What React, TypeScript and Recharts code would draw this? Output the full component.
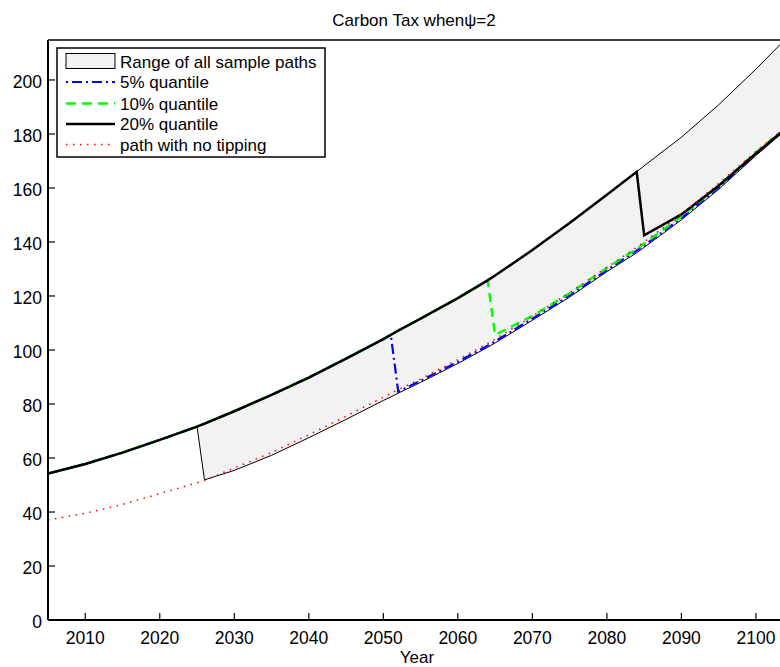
import { ComposedChart, Line, Area, XAxis, YAxis } from 'recharts';

// values (carbon tax, $/tC)
const years = [2005, 2010, 2015, 2020, 2025, 2026, 2030, 2035, 2040, 2045, 2050, 2051, 2052, 2055, 2060, 2064, 2065, 2070, 2075, 2080, 2084, 2085, 2090, 2095, 2100, 2103.5];

const upperPath = [54.2, 57.8, 62.0, 66.7, 71.6, 72.7, 77.3, 83.4, 89.8, 96.8, 104.0, 105.6, 107.2, 111.6, 119.2, 125.8, 127.6, 137.0, 147.0, 157.5, 166.0, 168.2, 178.8, 190.8, 204.0, 213.8];
const lowerPath = [null, null, null, null, 71.6, 51.9, 55.4, 61.0, 67.5, 74.3, 81.3, 82.6, 84.0, 88.0, 95.0, 101.0, 102.6, 111.0, 119.6, 129.0, 136.0, 138.0, 148.2, 159.5, 172.0, 180.3];
const noTipping = [37.0, 39.5, 42.8, 46.8, 50.8, 51.7, 56.3, 62.0, 68.6, 75.5, 82.5, 83.9, 85.3, 89.3, 96.4, 102.4, 104.0, 112.5, 121.2, 130.6, 138.0, 140.0, 150.3, 161.7, 173.5, 181.5];

const quantile5 = [54.2, 57.8, 62.0, 66.7, 71.6, 72.7, 77.3, 83.4, 89.8, 96.8, 104.0, 105.6, 84.6, 88.6, 95.6, 101.6, 103.2, 111.6, 120.2, 129.6, 136.8, 138.7, 148.8, 160.1, 172.6, 180.8];
const quantile10 = [54.2, 57.8, 62.0, 66.7, 71.6, 72.7, 77.3, 83.4, 89.8, 96.8, 104.0, 105.6, 107.2, 111.6, 119.2, 125.8, 105.6, 112.6, 121.0, 130.4, 137.4, 139.4, 149.5, 160.7, 173.2, 181.0];
const quantile20 = [54.2, 57.8, 62.0, 66.7, 71.6, 72.7, 77.3, 83.4, 89.8, 96.8, 104.0, 105.6, 107.2, 111.6, 119.2, 125.8, 127.6, 137.0, 147.0, 157.5, 166.0, 142.5, 150.2, 160.8, 172.8, 180.8];

const xTicks = [2010, 2020, 2030, 2040, 2050, 2060, 2070, 2080, 2090, 2100];
const yTicks = [0, 20, 40, 60, 80, 100, 120, 140, 160, 180, 200];

const title = 'Carbon Tax when\u03c8=2';
const xLabel = 'Year';
const legendLabels = ['Range of all sample paths', '5% quantile', '10% quantile', '20% quantile', 'path with no tipping'];

const data = years.map((year, i) => ({
  year,
  range: lowerPath[i] == null ? null : [lowerPath[i], upperPath[i]],
  edgeHigh: lowerPath[i] == null ? null : upperPath[i],
  edgeLow: lowerPath[i],
  q5: quantile5[i],
  q10: quantile10[i],
  q20: quantile20[i],
  noTip: noTipping[i],
}));

const font = '"Liberation Sans", Arial, Helvetica, sans-serif';

export default function App() {
  return (
    <div style={{ position: 'absolute', left: 0, top: 0, width: 780, height: 667, overflow: 'hidden', background: '#fff', fontFamily: font }}>
      <ComposedChart width={790} height={667} data={data} margin={{ top: 39, right: 7, bottom: 17, left: 0 }}>
        <XAxis
          dataKey="year"
          type="number"
          domain={[2005, 2103.5]}
          allowDataOverflow
          ticks={xTicks}
          height={30}
          tickSize={-7}
          tickMargin={19}
          axisLine={{ stroke: '#000', strokeWidth: 2 }}
          tickLine={{ stroke: '#000', strokeWidth: 1.2 }}
          tick={{ fill: '#000', fontSize: 17.5, fontFamily: font }}
        />
        <XAxis
          xAxisId="top"
          orientation="top"
          dataKey="year"
          type="number"
          domain={[2005, 2103.5]}
          allowDataOverflow
          ticks={xTicks}
          height={1}
          tickSize={-7}
          tick={false}
          axisLine={{ stroke: '#000', strokeWidth: 1.5 }}
          tickLine={{ stroke: '#000', strokeWidth: 1.2 }}
        />
        <YAxis
          type="number"
          domain={[0, 214.8]}
          allowDataOverflow
          ticks={yTicks}
          width={48}
          tickSize={-7}
          tickMargin={13}
          axisLine={{ stroke: '#000', strokeWidth: 2 }}
          tickLine={{ stroke: '#000', strokeWidth: 1.2 }}
          tick={{ fill: '#000', fontSize: 17.5, fontFamily: font, dy: 2 }}
        />
        <YAxis
          yAxisId="right"
          orientation="right"
          type="number"
          domain={[0, 214.8]}
          ticks={yTicks}
          width={1}
          tickSize={-7}
          tick={false}
          axisLine={{ stroke: '#000', strokeWidth: 1.5 }}
          tickLine={{ stroke: '#000', strokeWidth: 1.2 }}
        />

        <Area dataKey="range" type="linear" fill="#f2f2f2" fillOpacity={1} stroke="none" isAnimationActive={false} activeDot={false} />
        <Line dataKey="edgeHigh" type="linear" stroke="#000" strokeWidth={1} dot={false} activeDot={false} isAnimationActive={false} />
        <Line dataKey="edgeLow" type="linear" stroke="#000" strokeWidth={1} dot={false} activeDot={false} isAnimationActive={false} />
        <Line dataKey="q5" type="linear" stroke="#0000ff" strokeWidth={2.2} strokeDasharray="10 4 2 4" dot={false} activeDot={false} isAnimationActive={false} />
        <Line dataKey="q10" type="linear" stroke="#00ff00" strokeWidth={2.5} strokeDasharray="9 6" dot={false} activeDot={false} isAnimationActive={false} />
        <Line dataKey="q20" type="linear" stroke="#000" strokeWidth={2.5} dot={false} activeDot={false} isAnimationActive={false} />
        <Line dataKey="noTip" type="linear" stroke="#ff0000" strokeWidth={1.5} strokeDasharray="1.5 5.5" dot={false} activeDot={false} isAnimationActive={false} />
      </ComposedChart>

      <svg width={780} height={667} style={{ position: 'absolute', left: 0, top: 0, pointerEvents: 'none' }} fontFamily={font}>
        <text x={414} y={26} textAnchor="middle" fontSize={17} fill="#000">{title}</text>
        <text x={417} y={662.5} textAnchor="middle" fontSize={17} fill="#000">{xLabel}</text>

        <rect x={57} y={48} width={268} height={109} fill="#fff" stroke="#000" strokeWidth={1.5} />
        <rect x={66} y={53.5} width={49} height={15} fill="#f2f2f2" stroke="#000" strokeWidth={1} />
        <line x1={66} x2={115} y1={82} y2={82} stroke="#0000ff" strokeWidth={2.2} strokeDasharray="2 4 10 4" />
        <line x1={66} x2={115} y1={103.5} y2={103.5} stroke="#00ff00" strokeWidth={2.5} strokeDasharray="10 6" />
        <line x1={66} x2={115} y1={124} y2={124} stroke="#000" strokeWidth={2.5} />
        <line x1={66} x2={115} y1={144.5} y2={144.5} stroke="#ff0000" strokeWidth={1.5} strokeDasharray="1.5 5.5" />
        {legendLabels.map((label, i) => (
          <text key={label} x={120} y={[67.5, 88, 109.5, 130, 150.5][i]} fontSize={17} fill="#000">{label}</text>
        ))}
      </svg>
    </div>
  );
}
